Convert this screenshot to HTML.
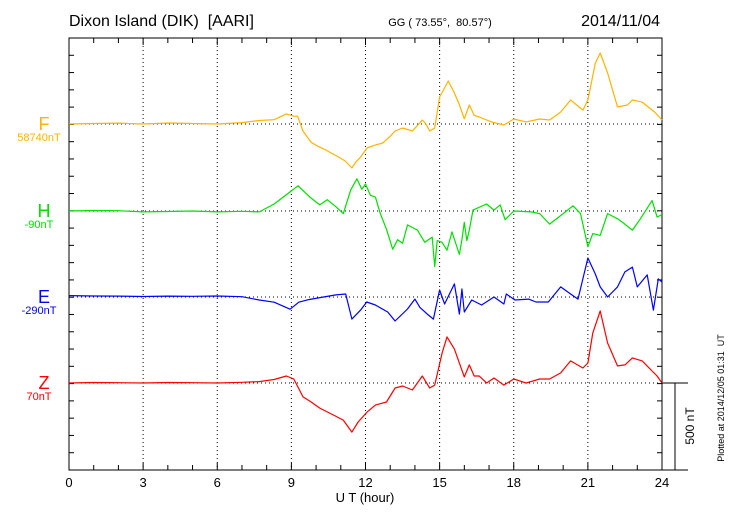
<!DOCTYPE html>
<html><head><meta charset="utf-8"><style>
html,body{margin:0;padding:0;background:#fff;}
svg{display:block;font-family:"Liberation Sans",sans-serif;}
</style></head><body>
<svg id="c" width="730" height="520" viewBox="0 0 730 520">
<text x="69" y="26" font-size="16">Dixon Island (DIK)&#160; [AARI]</text>
<text x="440" y="26" font-size="11" text-anchor="middle">GG ( 73.55°,&#160; 80.57°)</text>
<text x="660" y="26" font-size="16" text-anchor="end">2014/11/04</text>
<text x="365" y="502" font-size="13" text-anchor="middle">U T (hour)</text>
<text transform="translate(694,426) rotate(-90)" font-size="12" text-anchor="middle">500 nT</text>
<text transform="translate(724,398) rotate(-90)" font-size="9" text-anchor="middle">Plotted at 2014/12/05 01:31&#160; UT</text>
<g id="g"></g>
</svg>
<script>
const xTickLabels = ["0","3","6","9","12","15","18","21","24"];
const seriesNames = ["F","H","E","Z"];
const seriesBaseLabels = ["58740nT","-90nT","-290nT","70nT"];
const seriesColors = ["#ffb400","#00e000","#0000ff","#ff0000"];
const fTimes = [0,1,2,3,4,5,6,7,7.7,8.3,8.8,9.1,9.25,9.47,9.8,10.1,10.4,10.97,11.2,11.45,11.6,11.8,12.06,12.4,12.7,13.0,13.2,13.5,13.9,14.3,14.45,14.6,14.8,15.0,15.35,15.6,15.8,16.0,16.2,16.4,16.6,17.1,17.6,18,18.5,19.05,19.45,19.9,20.3,20.8,21.0,21.3,21.5,21.8,22.2,22.6,22.8,23.2,23.7,24];
const fValues = [0,3,5,0,6,3,0,8,20,25,58,45,45,-40,-105,-130,-150,-195,-215,-253,-220,-190,-138,-120,-109,-70,-40,-23,-40,23,0,-40,-23,155,247,178,110,30,109,50,40,12,-6,29,12,29,23,69,138,80,138,350,408,293,98,109,138,126,69,23];
const hTimes = [0,1,2,3,4,5,6,7,7.7,8.3,8.95,9.27,9.75,10.15,10.45,10.8,11.1,11.4,11.65,11.85,12,12.2,12.4,12.6,12.85,13.1,13.3,13.5,13.7,14.1,14.4,14.7,14.8,14.9,15.1,15.3,15.5,15.8,15.9,16.0,16.1,16.2,16.35,16.9,17.2,17.45,17.65,18,18.7,19.05,19.45,20,20.4,20.7,21,21.2,21.5,21.8,22.2,22.4,22.8,23.1,23.6,23.8,24];
const hValues = [0,3,2,-5,-3,0,-5,-2,-5,40,110,145,80,35,65,25,-15,120,185,125,155,90,80,-15,-105,-220,-165,-185,-80,-110,-180,-150,-320,-170,-180,-225,-120,-250,-165,-65,-170,-110,5,40,5,35,-50,0,-5,-15,-75,-15,30,-15,-205,-130,-140,-15,-45,-65,-110,-50,60,-35,-20];
const eTimes = [0,1,2,3,4,5,6,7,7.7,8.3,8.95,9.3,9.7,10.3,10.8,11.2,11.45,11.8,12.05,12.4,12.9,13.2,13.7,14.0,14.2,14.5,14.75,15.0,15.2,15.6,15.8,15.9,16.0,16.3,16.7,17.2,17.6,17.7,18.05,18.6,18.9,19.4,19.9,20.3,20.6,21,21.3,21.5,21.8,22.2,22.5,22.8,23.0,23.4,23.65,23.85,24];
const eValues = [8,6,5,3,5,4,6,2,-17,-30,-70,-30,-15,0,12,17,-127,-75,-29,-46,-86,-138,-69,-12,-60,-98,-127,40,-40,75,-98,46,-86,-17,-46,0,-40,17,-17,-12,-29,-29,58,17,-12,224,132,58,0,58,144,172,58,127,-75,104,86];
const zTimes = [0,1,2,3,4,5,6,7,7.7,8.3,8.8,9.1,9.47,9.75,10.15,10.7,11.1,11.45,11.7,12.06,12.4,12.85,13.2,13.5,13.9,14.3,14.6,14.8,15.1,15.3,15.6,16.0,16.2,16.4,16.6,16.9,17.2,17.6,18,18.5,19.05,19.45,19.9,20.3,20.8,21,21.2,21.5,21.8,22.2,22.5,22.8,23.2,23.6,23.8,24];
const zValues = [0,3,2,0,3,2,0,4,8,20,40,23,-80,-104,-144,-184,-213,-282,-224,-167,-127,-109,-29,-17,-40,40,-29,-12,172,265,195,35,104,40,40,0,29,-12,23,0,23,23,58,127,86,115,288,414,230,98,104,144,127,69,40,0];
const seriesTimes = [fTimes,hTimes,eTimes,zTimes];
const seriesValues = [fValues,hValues,eValues,zValues];

const NS='http://www.w3.org/2000/svg';
const g=document.getElementById('g');
const X0=69,X1=662,Y0=38,Y1=470;
const baseY=[124,211,297,383];
const pxPerNT=87/500;
const xs=h=>X0+(X1-X0)*h/24;
const ys=(i,v)=>baseY[i]-v*pxPerNT;
function mk(tag,at){const e=document.createElementNS(NS,tag);for(const k in at)e.setAttribute(k,at[k]);g.appendChild(e);return e;}
for(let k=1;k<8;k++){const e=mk('line',{x1:xs(k*3),x2:xs(k*3),y1:Y0,y2:Y1,stroke:'#000','stroke-width':1,'stroke-dasharray':'1,3'});

}
for(let i=0;i<4;i++){const e=mk('line',{x1:X0,x2:X1,y1:baseY[i],y2:baseY[i],stroke:'#000','stroke-width':1,'stroke-dasharray':'1,3'});

}
const fr=mk('rect',{x:X0,y:Y0,width:X1-X0,height:Y1-Y0,fill:'none',stroke:'#000','stroke-width':1});


for(let h=0;h<=24;h++){const x=xs(h),L=(h%3==0)?7:5;
const t1=mk('line',{x1:x,x2:x,y1:Y0,y2:Y0+L,stroke:'#000'});


const t2=mk('line',{x1:x,x2:x,y1:Y1,y2:Y1-L,stroke:'#000'});

}
for(let k=0;k<=25;k++){const y=Y0+(Y1-Y0)*k/25;
const a=mk('line',{x1:X0,x2:X0+5,y1:y,y2:y,stroke:'#000'});


const b=mk('line',{x1:X1,x2:X1-5,y1:y,y2:y,stroke:'#000'});

}
xTickLabels.forEach((s,k)=>{const t=mk('text',{x:xs(k*3),y:487,'font-size':13,'text-anchor':'middle'});t.textContent=s;

});
const sb1=mk('line',{x1:X1,x2:688,y1:383,y2:383,stroke:'#000'});


const sb2=mk('line',{x1:X1,x2:688,y1:Y1,y2:Y1,stroke:'#000'});


const sb3=mk('line',{x1:675,x2:675,y1:383,y2:Y1,stroke:'#000'});


for(let i=0;i<4;i++){
 const pts=seriesTimes[i].map((h,j)=>xs(h).toFixed(1)+','+ys(i,seriesValues[i][j]).toFixed(1)).join(' ');
 const p=mk('polyline',{points:pts,fill:'none',stroke:seriesColors[i],'stroke-width':1.2,'stroke-linejoin':'round'});
 
 
 const l=mk('text',{x:44,y:baseY[i]+6,'font-size':18,'text-anchor':'middle',fill:seriesColors[i]});l.textContent=seriesNames[i];
 
 
 const s=mk('text',{x:39,y:baseY[i]+17,'font-size':11,'text-anchor':'middle',fill:seriesColors[i]});s.textContent=seriesBaseLabels[i];
 
 
}
</script>
</body></html>
